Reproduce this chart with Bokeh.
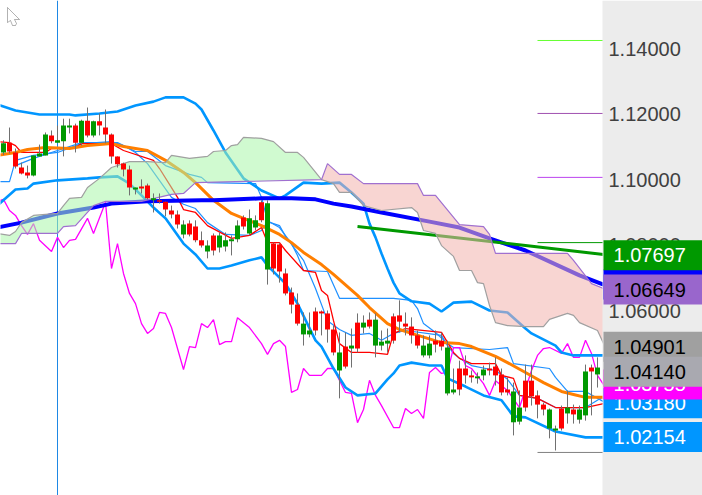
from bokeh.plotting import figure
from bokeh.models import PolyAnnotation
from bokeh.core.properties import value
from bokeh.embed import file_html
from bokeh.resources import INLINE

# candles: per bar index 0..100
direction = "GRRRRGGGRGGGRGRGRRRRRRGRRGRRRRGRRRGRGGGGRGGRGRRRRRGGRRRRGRGRGRGGGRRRRRGGRRGGRRRGGRRRRGGRRRRGGRGRGGRG"
top = [1.1111,1.1113,1.1083,1.1037,1.1022,1.1074,1.1080,1.1138,1.1135,1.1120,1.1165,1.1165,1.1165,1.1180,1.1180,1.1178,1.1178,1.1159,1.1138,1.1071,
       1.1049,1.1031,1.0976,1.0979,1.0982,1.0943,1.0937,1.0933,1.0906,1.0894,1.0863,1.0866,1.0857,1.0815,1.0799,1.0830,1.0830,1.0815,1.0818,1.0860,
       1.0885,1.0882,1.0876,1.0931,1.0928,1.0805,1.0802,1.0714,1.0656,1.0619,1.0561,1.0540,1.0598,1.0598,1.0592,1.0543,1.0473,1.0491,1.0494,1.0564,
       1.0564,1.0573,1.0573,1.0506,1.0509,1.0583,1.0586,1.0561,1.0552,1.0525,1.0494,1.0500,1.0509,1.0509,1.0488,1.0360,1.0424,1.0424,1.0403,1.0400,
       1.0421,1.0424,1.0430,1.0406,1.0360,1.0354,1.0305,1.0387,1.0387,1.0342,1.0314,1.0299,1.0241,1.0302,1.0305,1.0299,1.0299,1.0415,1.0427,1.0427,1.0412]
bottom = [1.1083,1.1086,1.1040,1.1019,1.1013,1.1013,1.1071,1.1074,1.1117,1.1113,1.1117,1.1159,1.1113,1.1113,1.1135,1.1135,1.1165,1.1138,1.1071,1.1047,
          1.1031,1.0976,1.0970,1.0973,1.0943,1.0937,1.0933,1.0909,1.0894,1.0863,1.0833,1.0833,1.0815,1.0799,1.0781,1.0784,1.0793,1.0796,1.0812,1.0818,
          1.0857,1.0836,1.0854,1.0876,1.0726,1.0729,1.0720,1.0653,1.0619,1.0561,1.0528,1.0528,1.0540,1.0592,1.0543,1.0473,1.0418,1.0430,1.0485,1.0485,
          1.0549,1.0552,1.0494,1.0494,1.0500,1.0509,1.0567,1.0552,1.0525,1.0494,1.0464,1.0464,1.0497,1.0491,1.0348,1.0351,1.0360,1.0403,1.0397,1.0394,
          1.0403,1.0418,1.0403,1.0351,1.0351,1.0260,1.0262,1.0305,1.0339,1.0314,1.0299,1.0241,1.0235,1.0241,1.0287,1.0284,1.0268,1.0281,1.0415,1.0406,1.0409]
high = [1.1120,1.1159,1.1095,1.1052,1.1043,1.1074,1.1107,1.1144,1.1150,1.1165,1.1186,1.1186,1.1171,1.1183,1.1220,1.1180,1.1202,1.1214,1.1141,1.1071,
        1.1052,1.1043,1.0976,1.1001,1.0988,1.0958,1.0958,1.0933,1.0921,1.0906,1.0876,1.0876,1.0876,1.0842,1.0815,1.0836,1.0839,1.0839,1.0830,1.0876,
        1.0891,1.0909,1.0891,1.0937,1.0937,1.0808,1.0808,1.0729,1.0671,1.0653,1.0595,1.0595,1.0610,1.0601,1.0601,1.0555,1.0534,1.0534,1.0546,1.0592,
        1.0586,1.0595,1.0592,1.0540,1.0546,1.0592,1.0632,1.0595,1.0580,1.0540,1.0525,1.0525,1.0540,1.0534,1.0509,1.0424,1.0448,1.0464,1.0418,1.0412,
        1.0433,1.0442,1.0458,1.0424,1.0397,1.0381,1.0357,1.0436,1.0436,1.0357,1.0320,1.0302,1.0250,1.0311,1.0357,1.0314,1.0311,1.0436,1.0436,1.0458,1.0412]
low = [1.1075,1.1080,1.1034,1.1016,1.1004,1.1010,1.1071,1.1074,1.1111,1.1113,1.1071,1.1141,1.1083,1.1104,1.1129,1.1129,1.1135,1.1111,1.1049,1.1037,
       1.1010,1.0952,1.0955,1.0958,1.0940,1.0900,1.0927,1.0888,1.0882,1.0851,1.0821,1.0827,1.0809,1.0793,1.0760,1.0769,1.0778,1.0781,1.0769,1.0809,
       1.0848,1.0830,1.0845,1.0870,1.0680,1.0711,1.0686,1.0647,1.0592,1.0555,1.0494,1.0519,1.0525,1.0525,1.0503,1.0464,1.0333,1.0424,1.0427,1.0473,
       1.0531,1.0546,1.0458,1.0479,1.0473,1.0500,1.0534,1.0525,1.0500,1.0485,1.0458,1.0455,1.0473,1.0479,1.0342,1.0345,1.0342,1.0378,1.0381,1.0378,
       1.0388,1.0403,1.0372,1.0342,1.0342,1.0220,1.0253,1.0293,1.0311,1.0272,1.0281,1.0211,1.0174,1.0235,1.0256,1.0256,1.0256,1.0265,1.0281,1.0366,1.0409]

band_up_i = [-1,2,4,6,11,12,16,19,22,25,27,30,32,33,35,37,40,43,46,47,50,53,56,58,60,61,62,63,64,65,66,68,71,73,75,78,81,84,87,88,92,93,95,100]
band_up = [1.1229,1.1211,1.1205,1.1199,1.1199,1.1196,1.1202,1.1208,1.1226,1.1238,1.1251,1.1251,1.1232,1.1214,1.1150,1.1083,1.1004,1.0967,1.0943,1.0952,1.0991,1.0988,1.0991,1.0961,1.0927,1.0866,1.0824,1.0775,1.0729,1.0686,1.0653,1.0629,1.0622,1.0598,1.0625,1.0628,1.0601,1.0595,1.0546,1.0531,1.0494,1.0473,1.0464,1.0464]

band_lo_i = [-1,2,4,5,9,14,16,19,21,23,25,27,30,32,34,36,38,41,43,44,47,49,52,53,55,57,59,62,64,65,66,68,71,73,74,77,80,83,85,87,92,97,100]
band_lo = [1.0921,1.0970,1.0973,1.0988,1.0998,1.1004,1.1007,1.1010,1.0988,1.0952,1.0915,1.0882,1.0805,1.0772,1.0729,1.0729,1.0738,1.0754,1.0763,1.0738,1.0683,1.0622,1.0510,1.0491,1.0424,1.0366,1.0342,1.0348,1.0391,1.0409,1.0433,1.0442,1.0433,1.0433,1.0394,1.0369,1.0342,1.0327,1.0278,1.0275,1.0232,1.0214,1.0214]

ma_orange_i = [-1,2,4,7,11,14,18,20,24,27,30,32,35,38,40,43,46,48,50,53,55,59,61,64,66,68,73,76,78,82,84,87,90,93,95,97,100]
ma_orange = [1.1074,1.1083,1.1092,1.1098,1.1095,1.1104,1.1110,1.1101,1.1089,1.1059,1.1022,1.0991,1.0937,1.0897,1.0882,1.0860,1.0833,1.0808,1.0778,1.0741,1.0711,1.0647,1.0610,1.0561,1.0543,1.0531,1.0503,1.0500,1.0491,1.0461,1.0442,1.0412,1.0381,1.0354,1.0345,1.0336,1.0336]

ma_blue_i = [-1,3,9,15,18,24,33,35,43,48,52,55,58,63,71,76,81,87,96,100]
ma_blue = [1.0854,1.0869,1.0897,1.0915,1.0927,1.0934,1.0937,1.0937,1.0943,1.0943,1.0940,1.0927,1.0918,1.0900,1.0872,1.0854,1.0821,1.0784,1.0708,1.0680]

trend_i = [59,87,100]
trend = [1.0857,1.0799,1.0772]

thin_a_i = [-1,1,2,5,9,13,18,20,22,24,28,30,32,34,37,41,43,44,46,47,50,52,54,56,58,61,63,65,67,73,74,75,76,78,82,84,86,89,92,97,100]
thin_a = [1.0994,1.0994,1.1059,1.1074,1.1083,1.1110,1.1116,1.1104,1.1083,1.1049,1.0946,1.0925,1.0912,1.0869,1.0833,1.0830,1.0845,1.0872,1.0860,1.0827,1.0754,1.0668,1.0570,1.0543,1.0525,1.0531,1.0510,1.0531,1.0540,1.0525,1.0494,1.0470,1.0455,1.0433,1.0418,1.0391,1.0342,1.0333,1.0305,1.0305,1.0339]

thin_b_i = [2,5,9,13,19,22,24,27,31,33,34,42,43,44,46,48,49,50,54,56,65,68,69,70,72,74,75,81,84,85,91,92,94,97,100]
thin_b = [1.1043,1.1065,1.1089,1.1113,1.1113,1.1086,1.1086,1.1043,1.1016,1.1007,1.0991,1.0988,1.0946,1.0875,1.0854,1.0805,1.0769,1.0723,1.0720,1.0638,1.0638,1.0632,1.0607,1.0561,1.0534,1.0500,1.0488,1.0482,1.0488,1.0439,1.0424,1.0397,1.0354,1.0354,1.0323]

red_i = [-1,1,2,3,7,8,12,13,18,20,25,26,28,29,30,32,34,38,40,41,43,44,46,47,50,52,53,54,55,56,58,61,64,65,67,73,75,76,78,82,83,85,86,89,92,97,100]
red_line = [1.1116,1.1113,1.1104,1.1083,1.1083,1.1095,1.1098,1.1110,1.1110,1.1089,1.1059,1.1034,1.0976,1.0946,1.0909,1.0900,1.0860,1.0821,1.0827,1.0830,1.0854,1.0808,1.0808,1.0784,1.0723,1.0717,1.0662,1.0647,1.0570,1.0500,1.0473,1.0473,1.0467,1.0531,1.0546,1.0534,1.0473,1.0455,1.0439,1.0439,1.0403,1.0394,1.0342,1.0333,1.0305,1.0305,1.0317]

magenta_i = [-1,0,1,2,3,4,5,6,8,9,10,11,12,14,15,17,18,19,20,21,22,23,24,25,26,27,28,30,31,32,33,34,35,36,37,38,39,41,43,44,45,46,47,48,49,50,51,53,54,55,57,58,59,60,61,62,63,65,66,67,68,69,70,71,72,73,74,75,76,77,78,80,81,82,84,86,88,89,90,91,93,94,95,96,97,98,99,100]
magenta = [1.0934,1.0940,1.0906,1.0891,1.0860,1.0833,1.0866,1.0815,1.0781,1.0824,1.0793,1.0815,1.0818,1.0882,1.0836,1.0931,1.0729,1.0805,1.0714,1.0653,1.0622,1.0561,1.0531,1.0546,1.0595,1.0592,1.0549,1.0421,1.0491,1.0488,1.0561,1.0549,1.0573,1.0497,1.0506,1.0506,1.0579,1.0549,1.0500,1.0467,1.0500,1.0510,1.0491,1.0351,1.0360,1.0424,1.0403,1.0403,1.0424,1.0424,1.0351,1.0348,1.0259,1.0299,1.0388,1.0342,1.0311,1.0244,1.0244,1.0302,1.0287,1.0299,1.0272,1.0412,1.0427,1.0409,1.0412,1.0488,1.0488,1.0433,1.0424,1.0378,1.0342,1.0387,1.0357,1.0305,1.0418,1.0464,1.0485,1.0488,1.0470,1.0500,1.0458,1.0458,1.0510,1.0470,1.0403,1.0375]

span_a_i = [-1,1,2,3,5,9,10,11,13,14,16,18,21,24,27,28,31,34,35,37,38,39,40,43,45,47,49,50,53,55,56,58,60,63,68,69,70,72,73,75,76,78,79,80,81,82,84,87,90,91,94,95,96,99,100]
span_a = [1.0836,1.0830,1.0842,1.0869,1.0891,1.0897,1.0921,1.0943,1.0946,1.0976,1.1004,1.1037,1.1055,1.1055,1.1052,1.1074,1.1065,1.1071,1.1086,1.1089,1.1104,1.1107,1.1129,1.1126,1.1116,1.1083,1.1083,1.1068,1.1000,1.0988,1.0961,1.0961,1.0921,1.0906,1.0915,1.0900,1.0845,1.0836,1.0799,1.0766,1.0723,1.0723,1.0686,1.0683,1.0616,1.0564,1.0555,1.0552,1.0552,1.0574,1.0592,1.0586,1.0564,1.0540,1.0500]

span_b_i = [-1,2,3,9,10,12,15,17,23,28,30,32,53,54,56,58,60,69,70,72,76,80,81,82,87,94,95,98,100]
span_b = [1.0805,1.0805,1.0836,1.0836,1.0857,1.0860,1.0921,1.0934,1.0934,1.0955,1.0958,1.0991,1.1000,1.1049,1.1016,1.1016,1.0988,1.0988,1.0952,1.0952,1.0863,1.0857,1.0833,1.0775,1.0775,1.0775,1.0754,1.0683,1.0668]
cloud_cross_bar = 53

tick_values = [1.14, 1.12, 1.10, 1.08, 1.06, 1.04, 1.02]
level_prices = [1.14245, 1.1202, 1.1007, 1.0808, 1.0168]
level_colors = ["#66FF33", "#A050B0", "#BB44EE", "#009900", "#808080"]
level_start_bar, level_end_bar = 89, 100
crosshair_bar = 9

price_tags = [
    ("1.06800", 1.0680, "#0000FF", "white"),
    ("1.07697", 1.07697, "#009900", "white"),
    ("1.06649", 1.06649, "#9966CC", "black"),
    ("1.03180", 1.03180, "#0096FF", "white"),
    ("1.03755", 1.03755, "#FF00FF", "white"),
    ("1.04901", 1.04901, "#A0A0A0", "black"),
    ("1.04140", 1.04140, "#A9A9B0", "black"),
    ("1.02154", 1.02154, "#0096FF", "white"),
]

FONT = "Liberation Sans"
Y0, Y1 = 1.00367, 1.15465
X0, X1 = -0.5, 116.5
PANEL_X = 99.83
TICK_X = 100.83
TAG_X = 100.0
TAG_TEXT_X = 101.67
TAG_HALF = 0.004575

p = figure(width=702, height=495, x_range=(X0, X1), y_range=(Y0, Y1),
           output_backend="svg", toolbar_location=None,
           x_axis_location=None, y_axis_location=None,
           min_border_left=0, min_border_top=0, min_border_bottom=0, min_border_right=0,
           background_fill_color="white", border_fill_color="white", outline_line_color=None)
p.grid.visible = False

# lines go under the translucent cloud
p.segment([crosshair_bar], [Y0], [crosshair_bar], [Y1], line_color="#1E88E5", line_width=1)
p.line(thin_a_i, thin_a, line_color="#1E90FF", line_width=1.2)
p.line(thin_b_i, thin_b, line_color="#1E90FF", line_width=1.2)
p.line(red_i, red_line, line_color="#FF0000", line_width=1.3)
p.line(magenta_i, magenta, line_color="#FF00FF", line_width=1.3)
p.line(band_up_i, band_up, line_color="#0096FF", line_width=2.6)
p.line(band_lo_i, band_lo, line_color="#0096FF", line_width=2.6)
p.line(ma_orange_i, ma_orange, line_color="#FF7F00", line_width=3)
p.line(ma_blue_i, ma_blue, line_color="#0000FF", line_width=4)
p.line(trend_i, trend, line_color="#009900", line_width=3)

def cloud(sel, color):
    ax_ = [(i, v) for i, v in zip(span_a_i, span_a) if sel(i)]
    bx_ = [(i, v) for i, v in zip(span_b_i, span_b) if sel(i)]
    pts = ax_ + bx_[::-1]
    p.patch([q[0] for q in pts], [q[1] for q in pts], fill_color=color, fill_alpha=0.55, line_color=None)

cloud(lambda i: i <= cloud_cross_bar, "#A9F5A9")
cloud(lambda i: i >= cloud_cross_bar, "#F2B2AD")
p.line(span_a_i, span_a, line_color="#A0A0A0", line_width=1.2)
p.line(span_b_i, span_b, line_color="#A070D0", line_width=1.2)

bars = list(range(len(top)))
colors = ["#009900" if d == "G" else "#FF0000" for d in direction]
p.segment(bars, high, bars, low, line_color="#707070", line_width=1)
p.vbar(x=bars, width=5 / 6, bottom=bottom, top=top, fill_color=colors, line_color=None)

for lv, c in zip(level_prices, level_colors):
    p.line([level_start_bar, level_end_bar], [lv, lv], line_color=c, line_width=1)

# right price panel
p.quad(left=[PANEL_X], right=[X1], bottom=[Y0], top=[Y1], fill_color="#ECECEC", line_color=None)
p.text(x=[TICK_X] * len(tick_values), y=tick_values, text=[f"{v:.5f}" for v in tick_values],
       text_font=value(FONT), text_font_size="20px", text_color="#404040",
       text_align="left", text_baseline="middle")

for txt, price, bg, fg in price_tags:
    p.quad(left=[TAG_X], right=[X1], bottom=[price - TAG_HALF], top=[price + TAG_HALF],
           fill_color=bg, line_color=None)
    p.text(x=[TAG_TEXT_X], y=[price], text=[txt], text_font=value(FONT), text_font_size="20px",
           text_color=fg, text_align="left", text_baseline="middle")

cursor_x = [7, 7, 10, 12, 15, 16, 14, 19]
cursor_y = [7, 22, 20, 25, 25, 23, 19, 19]
p.add_layout(PolyAnnotation(xs=cursor_x, ys=cursor_y, xs_units="canvas", ys_units="canvas",
                            fill_color="white", fill_alpha=1, line_color="black", line_width=1))

open("out.html", "w").write(file_html(p, INLINE))
